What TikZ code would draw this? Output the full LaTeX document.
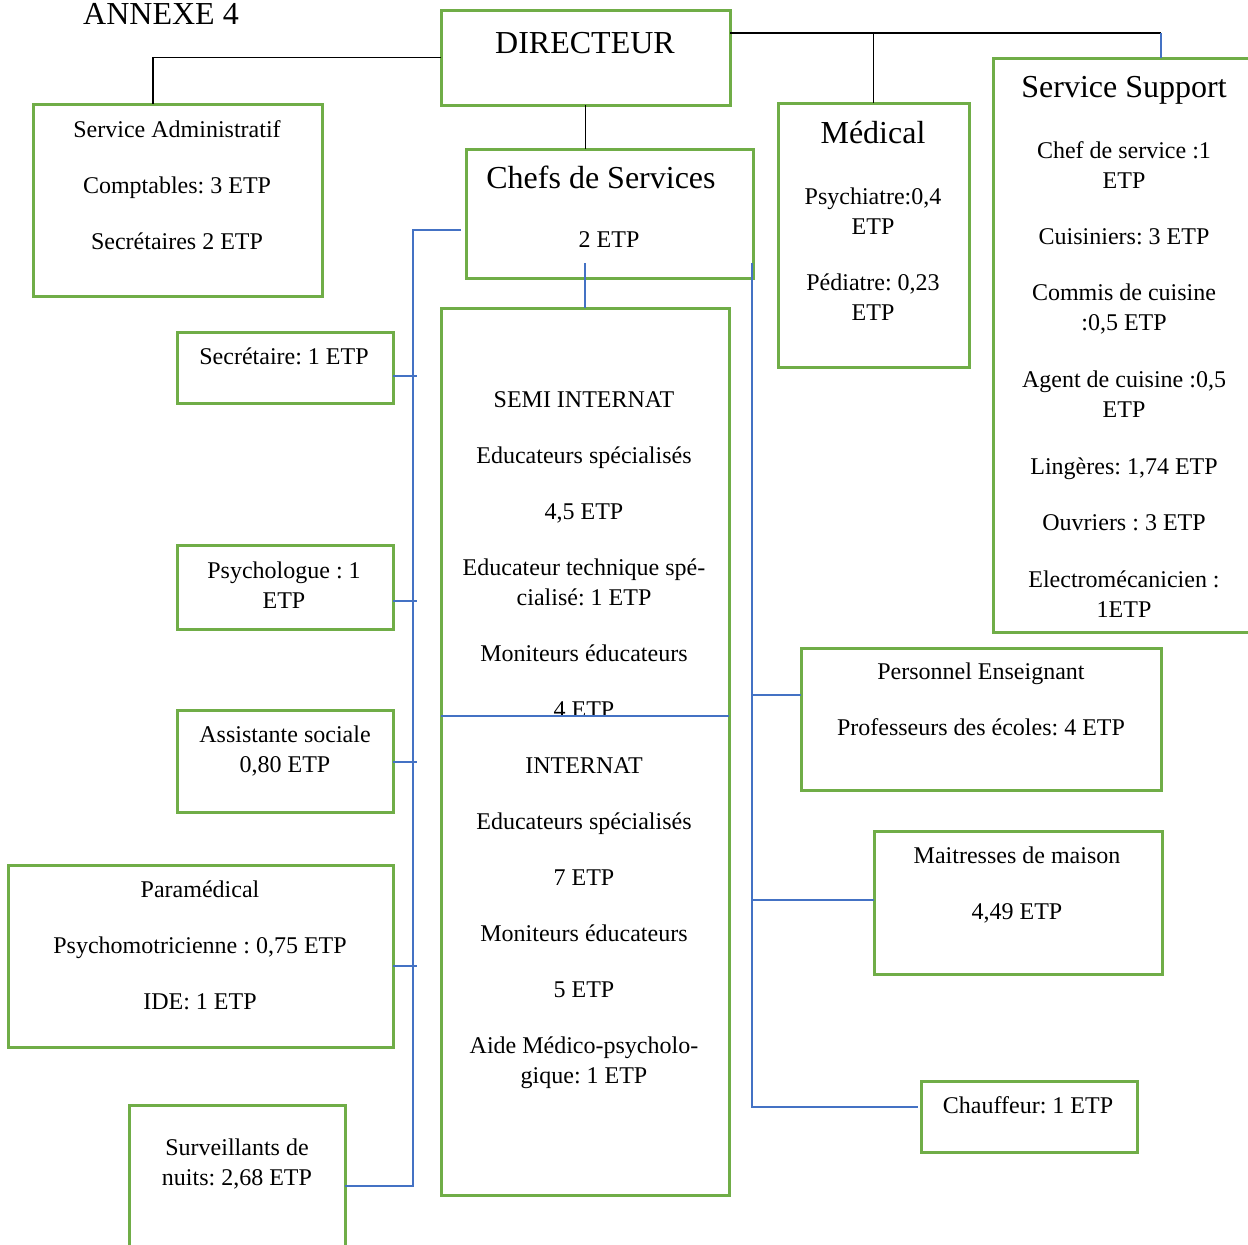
\documentclass[tikz,border=0pt]{standalone}
\usepackage{fontspec}
\setmainfont{Liberation Serif}
\frenchspacing
\definecolor{boxgreen}{HTML}{70AD47}
\definecolor{linkblue}{HTML}{4472C4}
\begin{document}
\begin{tikzpicture}[x=1pt,y=-1pt,
  box/.style={draw=boxgreen, line width=3pt, inner sep=0pt, outer sep=0pt, anchor=north west},
  body/.style={anchor=north, inner sep=0pt, outer sep=0pt, align=center, font=\fontsize{24}{30}\selectfont},
  head/.style={anchor=base, inner sep=0pt, outer sep=0pt, font=\fontsize{32}{38}\selectfont},
  blk/.style={draw=black, line width=1.2pt},
  bl/.style={draw=linkblue, line width=1.1pt}]
\useasboundingbox (0,0) rectangle (1248,1245);
\fill[white] (0,0) rectangle (1248,1245);

% title
\node[anchor=base, inner sep=0pt, font=\fontsize{32}{38}\selectfont] (annexe) at (161,24) {ANNEXE 4};

% boxes
\node[box, minimum width=289pt, minimum height=95pt] (dir) at (441,10) {};
\node[box, minimum width=289pt, minimum height=192pt] (sa) at (33,104) {};
\node[box, minimum width=287pt, minimum height=129pt] (chefs) at (466,149) {};
\node[box, minimum width=191pt, minimum height=264pt] (med) at (778,103) {};
\node[box, minimum width=259pt, minimum height=574pt] (ss) at (993,58) {};
\node[box, minimum width=216pt, minimum height=71pt] (sec) at (177,332) {};
\node[box, minimum width=216pt, minimum height=84pt] (psy) at (177,545) {};
\node[box, minimum width=216pt, minimum height=102pt] (asst) at (177,710) {};
\node[box, minimum width=385pt, minimum height=182pt] (para) at (8,865) {};
\node[box, minimum width=216pt, minimum height=148pt] (surv) at (129,1105) {};
\node[box, minimum width=288pt, minimum height=887pt] (big) at (441,308) {};
\node[box, minimum width=360pt, minimum height=142pt] (pe) at (801,648) {};
\node[box, minimum width=288pt, minimum height=143pt] (mm) at (874,831) {};
\node[box, minimum width=216pt, minimum height=71pt] (chauf) at (921,1081) {};

% texts
\node[head] (tdir) at (585,53) {DIRECTEUR};
\node[body] (tsa) at (177,116) {\strut Service Administratif\\[26pt] Comptables: 3 ETP\\[26pt] Secrétaires 2 ETP};
\node[head] (tchefs) at (601,188) {Chefs de Services};
\node[body] (tchefs2) at (609,226) {\strut 2 ETP};
\node[head] (tmed) at (873,143) {Médical};
\node[body] (tmed2) at (873,183) {\strut Psychiatre:0,4\\ETP\\[26pt] Pédiatre: 0,23\\ETP};
\node[head] (tss) at (1124,97) {Service Support};
\node[body] (tss2) at (1124,137) {\strut Chef de service :1\\ETP\\[26pt] Cuisiniers: 3 ETP\\[26pt] Commis de cuisine\\:0,5 ETP\\[27pt] Agent de cuisine :0,5\\ETP\\[27pt] Lingères: 1,74 ETP\\[26pt] Ouvriers : 3 ETP\\[27pt] Electromécanicien :\\1ETP};
\node[body] (tsec) at (284,343) {\strut Secrétaire: 1 ETP};
\node[body] (tpsy) at (284,557) {\strut Psychologue : 1\\ETP};
\node[body] (tasst) at (285,721) {\strut Assistante sociale\\0,80 ETP};
\node[body] (tpara) at (200,876) {\strut Paramédical\\[26pt] Psychomotricienne : 0,75 ETP\\[26pt] IDE: 1 ETP};
\node[body] (tsurv) at (237,1134) {\strut Surveillants de\\nuits: 2,68 ETP};
\node[body] (tbig) at (584,386) {\strut SEMI INTERNAT\\[26pt] Educateurs spécialisés\\[26pt] 4,5 ETP\\[26pt] Educateur technique spé-\\cialisé: 1 ETP\\[26pt] Moniteurs éducateurs\\[26pt] 4 ETP\\[26pt] INTERNAT\\[26pt] Educateurs spécialisés\\[26pt] 7 ETP\\[26pt] Moniteurs éducateurs\\[26pt] 5 ETP\\[26pt] Aide Médico-psycholo-\\gique: 1 ETP};
\node[body] (tpe) at (981,658) {\strut Personnel Enseignant\\[26pt] Professeurs des écoles: 4 ETP};
\node[body] (tmm) at (1017,842) {\strut Maitresses de maison\\[26pt] 4,49 ETP};
\node[body] (tchauf) at (1028,1092) {\strut Chauffeur: 1 ETP};

% black connectors from the director
\coordinate (jr) at (1161,33);
\draw[blk] (dir.west) -| ([xshift=120pt]sa.north west);
\draw[blk] (dir.east |- jr) -- (jr);
\draw[bl] (jr) -- (jr |- ss.north);
\draw[blk] (med.north |- jr) -- (med.north);
\draw[blk] (dir.south) -- (dir.south |- chefs.north);

% blue connectors
\coordinate (cs) at (585,263);
\draw[bl] (cs) -- (big.north);
\coordinate (lbt) at (461,230);
\coordinate (lb) at (413,230);
\coordinate (lbb) at (413,1186);
\draw[bl] (lbt) -- (lb) -- (lbb) -- (surv.east |- lbb);
\draw[bl] (sec.east |- 0,376) -- (417,376);
\draw[bl] (psy.east |- 0,601) -- (417,601);
\draw[bl] (asst.east |- 0,762) -- (417,762);
\draw[bl] (para.east |- 0,966) -- (417,966);

\coordinate (rbt) at (752,263);
\coordinate (rbb) at (752,1107);
\coordinate (chl) at (918,1107);
\draw[bl] (rbt) -- (rbb) -- (chl);
\draw[bl] (rbt |- 0,695) -- (pe.west |- 0,695);
\draw[bl] (rbt |- 0,900) -- (mm.west |- 0,900);

% divider inside the big box
\draw[bl] (big.west |- 0,716) -- (big.east |- 0,716);
\end{tikzpicture}
\end{document}
